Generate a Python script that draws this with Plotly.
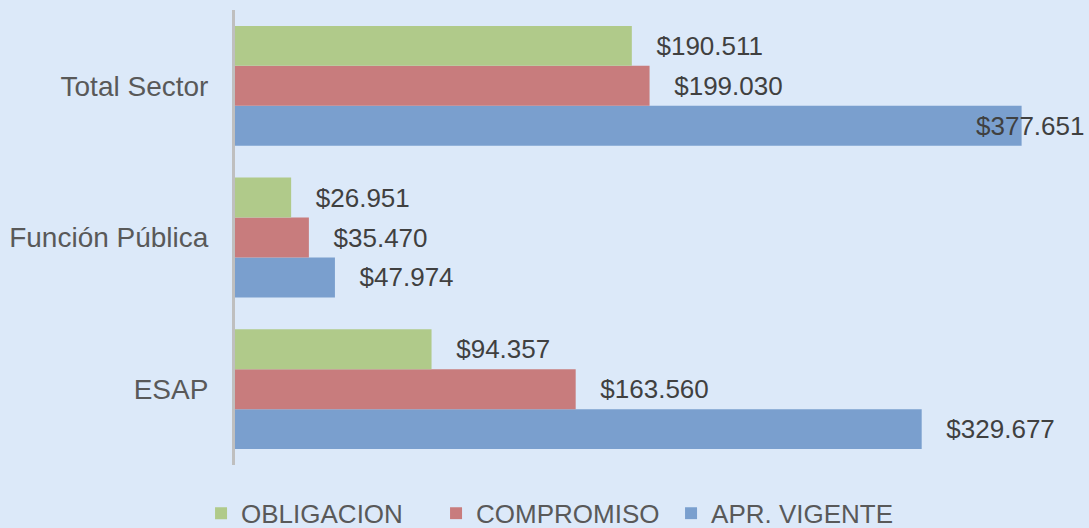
import plotly.graph_objects as go

# Presupuesto por entidad (millones de pesos)
categories = ["Total Sector", "Función Pública", "ESAP"]
obligacion = [190511, 26951, 94357]
compromiso = [199030, 35470, 163560]
apr_vigente = [377651, 47974, 329677]

series = [
    ("APR. VIGENTE", apr_vigente, "#7a9fce"),
    ("COMPROMISO", compromiso, "#c87c7d"),
    ("OBLIGACION", obligacion, "#b0ca8a"),
]

font_family = "Liberation Sans, Arial, sans-serif"
big = max(apr_vigente)

fig = go.Figure()
for name, vals, color in series:
    # the biggest label doesn't fit outside, it gets its own annotation below
    labels = ["" if v == big else "\u00a0\u00a0\u00a0$" + f"{v:,}".replace(",", ".") for v in vals]
    fig.add_trace(go.Bar(
        name=name, y=categories, x=vals, orientation="h",
        marker=dict(color=color, line=dict(width=0)),
        text=labels, textposition="outside", constraintext="none",
        textfont=dict(size=26, color="#404040", family=font_family),
        cliponaxis=False,
    ))

fig.add_annotation(
    x=big, y=categories[apr_vigente.index(big)],
    text="$" + f"{big:,}".replace(",", "."),
    showarrow=False, xanchor="right", xshift=64, yshift=-40,
    font=dict(size=26, color="#404040", family=font_family),
)

fig.update_layout(
    width=1089, height=528,
    barmode="group", bargap=0.21, bargroupgap=0,
    paper_bgcolor="#dce9f9", plot_bgcolor="#dce9f9",
    margin=dict(l=235, r=0, t=10, b=63, autoexpand=False),
    font=dict(family=font_family, size=26, color="#595959"),
    showlegend=True,
    legend=dict(
        orientation="h", traceorder="reversed",
        x=0.373, xanchor="center", y=-0.106, yanchor="middle",
        font=dict(size=26, color="#595959"),
        bgcolor="rgba(0,0,0,0)", itemwidth=30,
        entrywidth=190, entrywidthmode="pixels",
    ),
)
fig.update_xaxes(range=[0, 410000], visible=False, showgrid=False, zeroline=False)
fig.update_yaxes(
    categoryorder="array", categoryarray=categories[::-1],
    showline=True, linecolor="#bfbfbf", linewidth=3,
    showgrid=False, zeroline=False, ticks="", ticklabelstandoff=18,
    tickfont=dict(size=28, color="#595959"),
)

fig.write_html("out.html", config={"displayModeBar": False},
               post_script="document.body.style.margin='0';")
